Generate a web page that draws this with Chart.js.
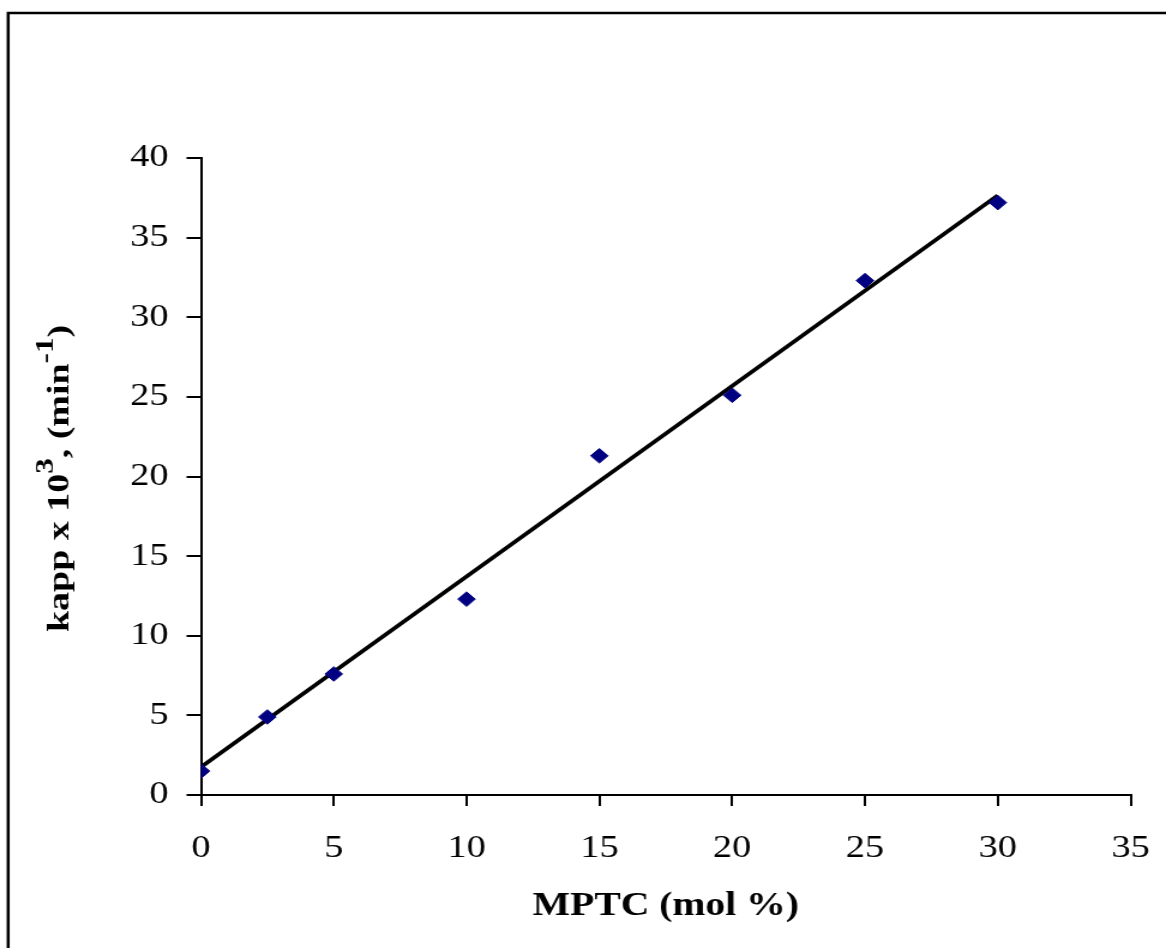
<!DOCTYPE html>
<html>
<head>
<meta charset="utf-8">
<script src="https://cdn.jsdelivr.net/npm/chart.js@4/dist/chart.umd.min.js"></script>
<style>
html,body{margin:0;padding:0;background:#fff;overflow:hidden}
canvas{display:block}
</style>
</head>
<body>
<canvas id="c" width="972" height="948" style="width:1166px;height:948px"></canvas>
<script>
// ---- data ----
const mptc = [0, 2.5, 5, 10, 15, 20, 25, 30];
const kapp = [1.5, 4.9, 7.6, 12.3, 21.3, 25.1, 32.3, 37.2];
const trendX = [0, 30];
const trendY = [1.75, 37.65];
const xTicks = [0, 5, 10, 15, 20, 25, 30, 35];
const yTicks = [0, 5, 10, 15, 20, 25, 30, 35, 40];
const xTitle = 'MPTC (mol %)';
const yTitleParts = [
  { text: 'kapp x 10', sup: false },
  { text: '3', sup: true },
  { text: ', (min', sup: false },
  { text: '-1', sup: true },
  { text: ')', sup: false }
];

const SERIF = '"Liberation Serif", "Times New Roman", serif';

const titlesPlugin = {
  id: 'titlesAndFrame',
  afterDraw(chart) {
    const ctx = chart.ctx;
    const area = chart.chartArea;
    ctx.save();
    // outer frame
    ctx.strokeStyle = '#000';
    ctx.lineWidth = 2.5;
    ctx.strokeRect(6.8, 13, 3000, 3000);

    // x title
    ctx.fillStyle = '#000';
    ctx.font = 'bold 33px ' + SERIF;
    ctx.textAlign = 'center';
    ctx.textBaseline = 'alphabetic';
    ctx.fillText(xTitle, (area.left + area.right) / 2, 915);

    // y title with superscripts (condensed like the original)
    const mainFont = 'bold 33px ' + SERIF;
    const supFont = 'bold 27px ' + SERIF;
    let total = 0;
    const widths = yTitleParts.map(p => {
      ctx.font = p.sup ? supFont : mainFont;
      const w = ctx.measureText(p.text).width;
      total += w;
      return w;
    });
    ctx.translate(57.2, 478.5);
    ctx.rotate(-Math.PI / 2);
    ctx.scale(1.15, 0.74);
    ctx.textAlign = 'left';
    let x = -total / 2;
    yTitleParts.forEach((p, i) => {
      ctx.font = p.sup ? supFont : mainFont;
      ctx.fillText(p.text, x, p.sup ? -18.5 : 0);
      x += widths[i];
    });
    ctx.restore();
  }
};

const axisCommon = {
  type: 'linear',
  border: { display: true, color: '#000', width: 2 },
  ticks: { color: '#000', font: { family: SERIF, size: 32 } }
};

new Chart(document.getElementById('c'), {
  type: 'scatter',
  data: {
    datasets: [
      {
        label: 'kapp',
        data: mptc.map((v, i) => ({ x: v, y: kapp[i] })),
        pointStyle: 'rectRot',
        pointRadius: 7.3,
        pointHoverRadius: 7.3,
        backgroundColor: '#000080',
        borderColor: '#000080',
        borderWidth: 1,
        showLine: false,
        order: 0
      },
      {
        label: 'trend',
        type: 'line',
        data: trendX.map((v, i) => ({ x: v, y: trendY[i] })),
        borderColor: '#000',
        borderWidth: 3.8,
        borderCapStyle: 'butt',
        pointRadius: 0,
        fill: false,
        order: 1
      }
    ]
  },
  options: {
    responsive: false,
    animation: false,
    devicePixelRatio: 1,
    layout: { padding: { left: 0, right: 29.5, top: 158, bottom: 0 } },
    plugins: { legend: { display: false }, tooltip: { enabled: false } },
    scales: {
      x: {
        ...axisCommon,
        position: 'bottom',
        min: 0, max: 35,
        ticks: { ...axisCommon.ticks, padding: 23, maxRotation: 0, autoSkip: false },
        grid: { display: true, drawOnChartArea: false, drawTicks: true, tickLength: 11, color: '#000', lineWidth: 2 },
        afterBuildTicks: s => { s.ticks = xTicks.map(v => ({ value: v })); },
        afterFit: s => { s.height = 153; s.paddingLeft = 0; s.paddingRight = 0; }
      },
      y: {
        ...axisCommon,
        position: 'left',
        min: 0, max: 40,
        ticks: { ...axisCommon.ticks, padding: 15, autoSkip: false },
        grid: { display: true, drawOnChartArea: false, drawTicks: true, tickLength: 12, color: '#000', lineWidth: 2 },
        afterBuildTicks: s => { s.ticks = yTicks.map(v => ({ value: v })); },
        afterFit: s => { s.width = 167.5; s.paddingTop = 0; s.paddingBottom = 0; }
      }
    }
  },
  plugins: [titlesPlugin]
});
</script>
</body>
</html>
